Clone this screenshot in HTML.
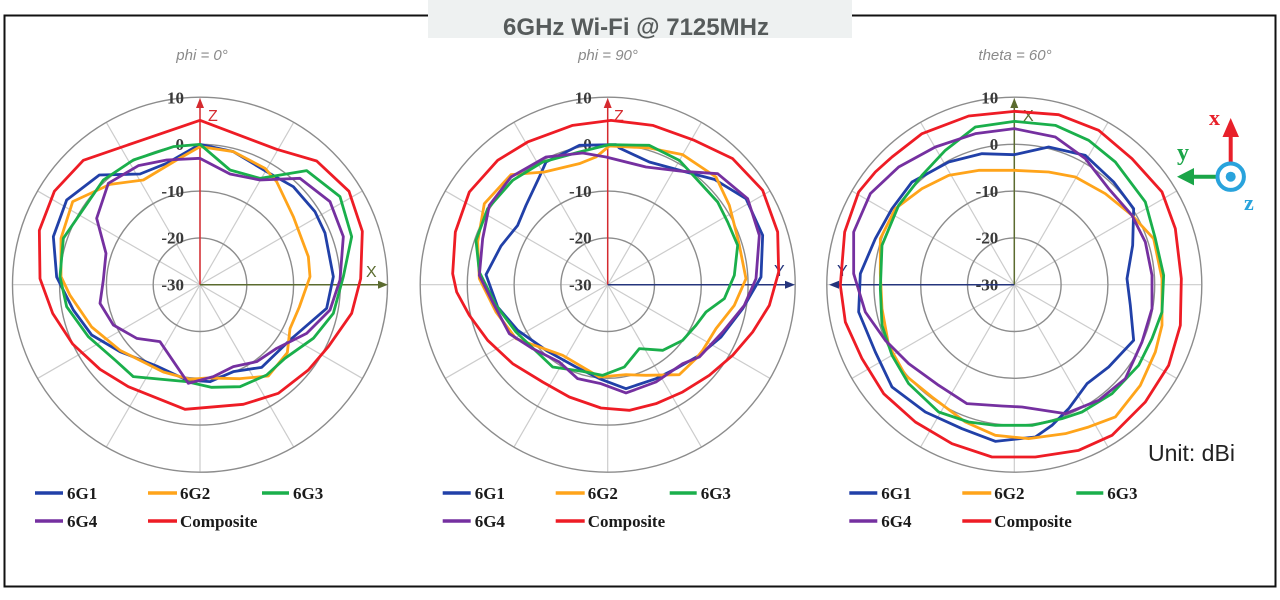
<!DOCTYPE html>
<html><head><meta charset="utf-8"><style>
html,body{margin:0;padding:0;background:#fff;width:1280px;height:600px;overflow:hidden}
svg{display:block}
.lab{font-family:"Liberation Serif",serif;font-weight:bold;font-size:17px;fill:#3a3a3a}
.leg{font-family:"Liberation Serif",serif;font-weight:bold;font-size:17px;fill:#1a1a1a}
.sub{font-family:"Liberation Sans",sans-serif;font-style:italic;font-size:15px;fill:#8a8a8a}
.ax{font-family:"Liberation Sans",sans-serif;font-size:16px}
.s{fill:none;stroke-width:2.8;stroke-linejoin:round;vector-effect:non-scaling-stroke}
</style></head><body>
<svg width="1280" height="600" viewBox="0 0 1280 600" xmlns="http://www.w3.org/2000/svg">
<defs>
<g id="grid">
<g stroke="#cccccc" stroke-width="1.2">
<line x1="0" y1="-187" x2="0" y2="187"/>
<line x1="93.5" y1="-162" x2="-93.5" y2="162"/>
<line x1="162" y1="-93.5" x2="-162" y2="93.5"/>
<line x1="-187" y1="0" x2="187" y2="0"/>
<line x1="162" y1="93.5" x2="-162" y2="-93.5"/>
<line x1="93.5" y1="162" x2="-93.5" y2="-162"/>
</g>
<g fill="none" stroke="#8c8c8c" stroke-width="1.4">
<circle r="46.8"/><circle r="93.6"/><circle r="140.4"/><circle r="187.5"/>
</g>
</g>
</defs>
<rect x="4.5" y="15.5" width="1271" height="571" fill="none" stroke="#111" stroke-width="2"/>
<rect x="428" y="0" width="424" height="38" fill="#eef1f1"/>
<text x="636" y="35" text-anchor="middle" font-family="Liberation Sans, sans-serif" font-weight="bold" font-size="24" fill="#565b5b">6GHz Wi-Fi @ 7125MHz</text>

<!-- Chart 1 -->
<text class="sub" x="202" y="60" text-anchor="middle">phi = 0°</text>
<use href="#grid" transform="translate(200 284.7)"/>
<g class="lab" text-anchor="end">
<text x="184" y="103.5">10</text><text x="184" y="150">0</text><text x="184" y="197">-10</text><text x="184" y="243.5">-20</text><text x="184" y="290.5">-30</text>
</g>
<line x1="200" y1="284.7" x2="200" y2="106" stroke="#d52a2f" stroke-width="1.5"/>
<polygon points="200,98 196,108 204,108" fill="#d52a2f"/>
<text class="ax" x="208" y="121" fill="#d52a2f">Z</text>
<line x1="200" y1="284.7" x2="379" y2="284.7" stroke="#5b6b2f" stroke-width="1.5"/>
<polygon points="388,284.7 378,280.7 378,288.7" fill="#5b6b2f"/>
<text class="ax" x="366" y="277" fill="#5b6b2f">X</text>
<g transform="translate(10 92) scale(0.33333)">
<polygon class="s" stroke="#2140a8" points="570,157 670,179 770,239 850,284 915,359 945,423 970,554 950,649 840,744 755,826 670,839 600,869 530,864 440,822 330,779 245,729 190,654 140,555 130,434 170,324 268,249 390,246 470,214"/>
<polygon class="s" stroke="#ffa41a" points="570,164 670,179 765,229 800,269 850,374 895,494 900,554 868,645 840,710 832,782 775,852 690,860 590,858 540,862 460,840 330,775 245,705 180,610 153,554 153,439 188,329 300,277 400,264 500,204"/>
<polygon class="s" stroke="#1aaf4b" points="570,157 660,234 750,259 890,236 990,314 1025,434 1000,554 970,664 910,739 825,799 770,849 690,884 605,886 530,869 370,854 315,804 235,734 170,644 150,554 160,439 280,264 370,204 490,164"/>
<polygon class="s" stroke="#7530a0" points="570,199 660,246 750,264 870,259 960,329 1000,434 990,564 960,654 890,724 800,769 740,809 670,824 610,854 535,874 450,749 380,739 310,699 270,634 280,564 288,484 260,379 295,274 385,221 470,204"/>
<polygon class="s" stroke="#ee1c25" points="570,85 800,172 920,207 1017,298 1057,418 1052,560 1025,664 955,764 895,834 805,904 700,937 525,952 355,884 270,832 188,756 128,664 90,560 88,415 133,298 220,205 400,143"/>
</g>

<!-- Chart 2 -->
<text class="sub" x="608" y="60" text-anchor="middle">phi = 90°</text>
<use href="#grid" transform="translate(607.7 284.7)"/>
<g class="lab" text-anchor="end">
<text x="591.7" y="103.5">10</text><text x="591.7" y="150">0</text><text x="591.7" y="197">-10</text><text x="591.7" y="243.5">-20</text><text x="591.7" y="290.5">-30</text>
</g>
<line x1="607.7" y1="284.7" x2="607.7" y2="106" stroke="#d52a2f" stroke-width="1.5"/>
<polygon points="607.7,98 603.7,108 611.7,108" fill="#d52a2f"/>
<text class="ax" x="614" y="121" fill="#d52a2f">Z</text>
<line x1="607.7" y1="284.7" x2="786" y2="284.7" stroke="#25357c" stroke-width="1.5"/>
<polygon points="795,284.7 785,280.7 785,288.7" fill="#25357c"/>
<text class="ax" x="774" y="276" fill="#25357c">Y</text>
<g transform="translate(416 92) scale(0.33333)">
<polygon class="s" stroke="#2140a8" points="490,160 600,158 610,168 700,210 810,240 895,262 990,320 1040,430 1035,555 980,650 915,735 850,790 780,830 720,860 630,890 555,862 480,825 395,778 305,715 245,645 210,548 255,462 305,400 330,340 370,255 390,210"/>
<polygon class="s" stroke="#ffa41a" points="580,162 700,168 800,188 900,255 940,340 968,450 990,560 955,640 900,710 860,775 840,800 790,848 690,850 630,848 550,855 440,790 300,740 240,660 190,560 185,450 205,335 285,248 385,240 490,215 540,195"/>
<polygon class="s" stroke="#1aaf4b" points="580,158 700,160 790,205 850,270 905,330 935,390 965,460 955,550 925,620 870,660 840,700 800,745 740,775 670,770 625,825 560,850 500,838 410,825 300,720 240,640 190,540 180,445 215,350 290,265 380,210 490,180"/>
<polygon class="s" stroke="#7530a0" points="500,183 570,195 690,225 800,238 905,245 995,320 1030,430 1020,560 985,640 920,720 850,795 800,815 720,870 630,903 555,875 485,860 430,810 350,770 280,725 235,640 190,550 200,440 220,340 285,255 390,195"/>
<polygon class="s" stroke="#ee1c25" points="585,85 710,100 835,145 950,200 1040,295 1085,420 1088,540 1060,640 1010,720 950,790 880,850 800,900 720,935 640,955 555,948 460,915 380,870 290,815 215,745 160,670 122,600 110,545 118,420 160,300 245,205 335,150 470,100"/>
</g>

<!-- Chart 3 -->
<text class="sub" x="1015" y="60" text-anchor="middle">theta = 60°</text>
<use href="#grid" transform="translate(1014.3 284.7)"/>
<g class="lab" text-anchor="end">
<text x="998.3" y="103.5">10</text><text x="998.3" y="150">0</text><text x="998.3" y="197">-10</text><text x="998.3" y="243.5">-20</text><text x="998.3" y="290.5">-30</text>
</g>
<line x1="1014.3" y1="284.7" x2="1014.3" y2="106" stroke="#5b6b2f" stroke-width="1.5"/>
<polygon points="1014.3,98 1010.3,108 1018.3,108" fill="#5b6b2f"/>
<text class="ax" x="1023" y="121" fill="#5b6b2f">X</text>
<line x1="1014.3" y1="284.7" x2="838" y2="284.7" stroke="#25357c" stroke-width="1.5"/>
<polygon points="829,284.7 839,280.7 839,288.7" fill="#25357c"/>
<text class="ax" x="837" y="276" fill="#25357c">Y</text>
<g transform="translate(822 92) scale(0.33333)">
<polygon class="s" stroke="#2140a8" points="577,188 680,165 790,190 875,270 935,350 932,460 915,560 925,640 935,745 860,825 795,875 740,950 690,1000 640,1035 520,1048 420,1010 310,960 210,885 160,780 110,660 115,545 160,440 210,350 270,270 380,210 480,185"/>
<polygon class="s" stroke="#ffa41a" points="577,235 680,240 760,255 850,305 930,370 995,440 1020,560 1020,700 1000,780 955,880 880,975 800,1005 730,1025 620,1040 520,1030 430,990 330,915 250,850 200,760 180,650 175,545 175,440 220,350 300,290 380,250 470,235"/>
<polygon class="s" stroke="#1aaf4b" points="577,88 700,100 800,145 880,210 970,330 1000,440 1025,550 1020,660 990,740 950,820 870,905 780,960 720,980 630,1000 520,1000 440,990 350,960 260,875 210,790 180,700 175,590 180,460 230,340 300,250 370,175 460,105"/>
<polygon class="s" stroke="#7530a0" points="577,110 700,135 790,200 860,290 930,370 970,450 990,550 990,650 960,750 910,860 830,925 730,965 600,945 540,942 435,935 350,880 260,815 190,745 130,660 95,545 95,420 145,305 230,225 340,165 460,125"/>
<polygon class="s" stroke="#ee1c25" points="577,58 710,68 830,115 930,200 1020,300 1060,410 1078,560 1075,700 1040,820 970,930 870,1030 770,1075 640,1095 510,1095 390,1055 280,990 185,905 120,800 70,690 55,580 68,420 110,300 160,240 210,195 300,125 440,72"/>
</g>

<!-- Legends -->
<g id="leg1">
<g stroke-width="3.5">
<line x1="35" y1="493" x2="63" y2="493" stroke="#2140a8"/>
<line x1="148" y1="493" x2="177" y2="493" stroke="#ffa41a"/>
<line x1="262" y1="493" x2="289" y2="493" stroke="#1aaf4b"/>
<line x1="35" y1="521" x2="63" y2="521" stroke="#7530a0"/>
<line x1="148" y1="521" x2="177" y2="521" stroke="#ee1c25"/>
</g>
<text class="leg" x="67" y="499">6G1</text>
<text class="leg" x="180" y="499">6G2</text>
<text class="leg" x="293" y="499">6G3</text>
<text class="leg" x="67" y="527">6G4</text>
<text class="leg" x="180" y="527">Composite</text>
</g>
<g transform="translate(407.7 0)">
<g stroke-width="3.5">
<line x1="35" y1="493" x2="63" y2="493" stroke="#2140a8"/>
<line x1="148" y1="493" x2="177" y2="493" stroke="#ffa41a"/>
<line x1="262" y1="493" x2="289" y2="493" stroke="#1aaf4b"/>
<line x1="35" y1="521" x2="63" y2="521" stroke="#7530a0"/>
<line x1="148" y1="521" x2="177" y2="521" stroke="#ee1c25"/>
</g>
<text class="leg" x="67" y="499">6G1</text>
<text class="leg" x="180" y="499">6G2</text>
<text class="leg" x="293" y="499">6G3</text>
<text class="leg" x="67" y="527">6G4</text>
<text class="leg" x="180" y="527">Composite</text>
</g>
<g transform="translate(814.3 0)">
<g stroke-width="3.5">
<line x1="35" y1="493" x2="63" y2="493" stroke="#2140a8"/>
<line x1="148" y1="493" x2="177" y2="493" stroke="#ffa41a"/>
<line x1="262" y1="493" x2="289" y2="493" stroke="#1aaf4b"/>
<line x1="35" y1="521" x2="63" y2="521" stroke="#7530a0"/>
<line x1="148" y1="521" x2="177" y2="521" stroke="#ee1c25"/>
</g>
<text class="leg" x="67" y="499">6G1</text>
<text class="leg" x="180" y="499">6G2</text>
<text class="leg" x="293" y="499">6G3</text>
<text class="leg" x="67" y="527">6G4</text>
<text class="leg" x="180" y="527">Composite</text>
</g>

<text x="1148" y="461" font-family="Liberation Sans, sans-serif" font-size="23" fill="#222">Unit: dBi</text>

<!-- Coordinate icon -->
<line x1="1230.7" y1="162" x2="1230.7" y2="136" stroke="#e8202a" stroke-width="4"/>
<polygon points="1230.7,118 1222.5,137 1239,137" fill="#e8202a"/>
<text x="1209" y="125" font-family="Liberation Serif, serif" font-weight="bold" font-size="22" fill="#e8202a">x</text>
<line x1="1216" y1="176.7" x2="1192" y2="176.7" stroke="#1aa548" stroke-width="4"/>
<polygon points="1177,176.7 1194,168 1194,185.4" fill="#1aa548"/>
<text x="1177" y="160" font-family="Liberation Serif, serif" font-weight="bold" font-size="24" fill="#1aa548">y</text>
<circle cx="1230.7" cy="176.7" r="13.2" fill="#fff" stroke="#29a3dc" stroke-width="4"/>
<circle cx="1230.7" cy="176.7" r="5" fill="#29a3dc"/>
<text x="1244" y="210" font-family="Liberation Serif, serif" font-weight="bold" font-size="22" fill="#29a3dc">z</text>
</svg>
</body></html>
